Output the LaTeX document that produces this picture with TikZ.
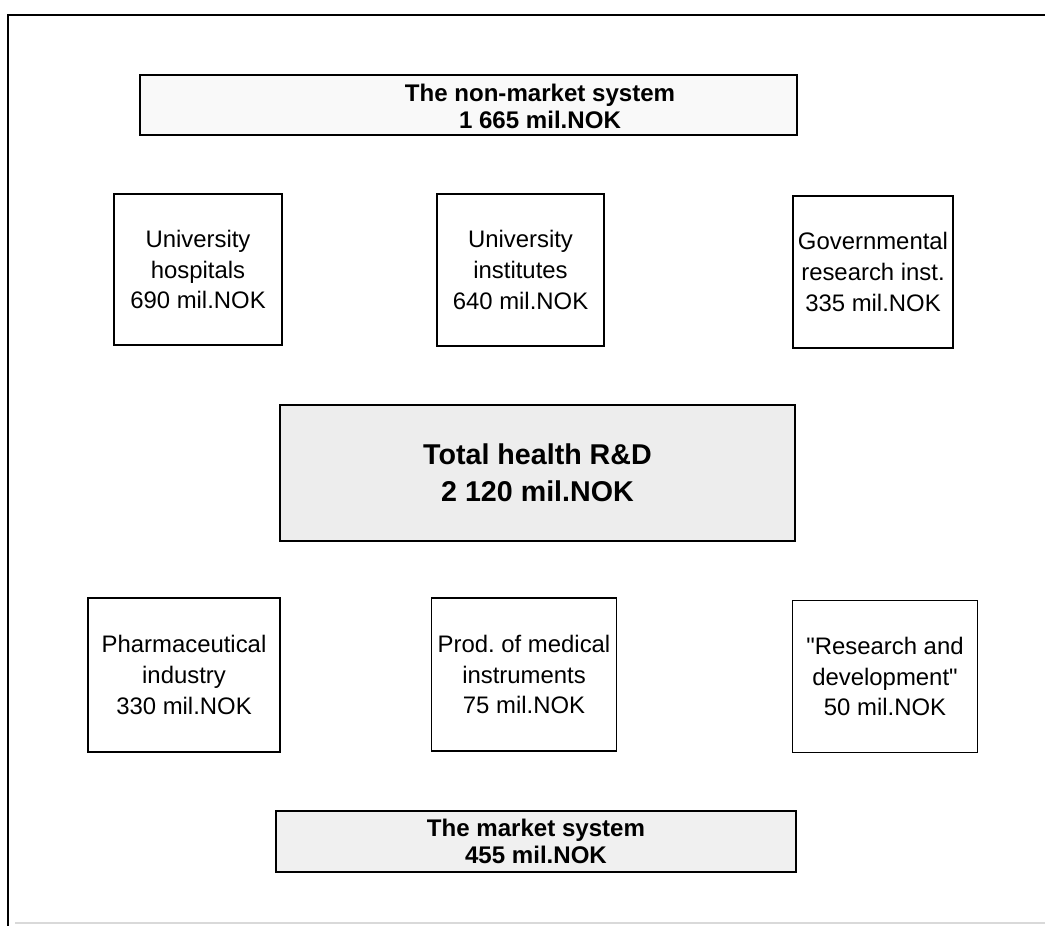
\documentclass[tikz,border=0pt]{standalone}
\usepackage{fontspec}
\setmainfont{Liberation Sans}
\usepackage{tikz}
\usetikzlibrary{positioning}
\frenchspacing

\tikzset{
  sysbox/.style={draw, line width=1pt, fill=gray!12, inner sep=0pt, align=center,
    font=\bfseries\fontsize{13.7}{15.3}\selectfont},
  systext/.style={inner sep=0pt, align=center,
    font=\bfseries\fontsize{13.7}{15.3}\selectfont},
  unitbox/.style={draw, line width=1pt, fill=white, inner sep=0pt, align=center,
    font=\fontsize{13.6}{17.6}\selectfont},
  totalbox/.style={draw, line width=1pt, fill=gray!14, inner sep=0pt, align=center,
    font=\bfseries\fontsize{16.3}{21}\selectfont}
}

\begin{document}
\begin{tikzpicture}[x=0.02cm, y=-0.02cm]
\useasboundingbox (0,0) rectangle (1045,926);

% Frame
\draw[line width=1pt] (1045,15) -- (8,15) -- (8,926);
\draw[gray!30, line width=0.8pt] (15,923) -- (1045,923);

% Non-market system
\node[sysbox, fill=gray!5, minimum width=13.14cm, minimum height=1.2cm] (nonmarket) at (468.5,105) {};
\node[systext] (nonmarkettext) at (540,106) {The non-market system\\1 665 mil.NOK};

% Non-market units
\node[unitbox, minimum width=3.36cm, minimum height=3.02cm] (hospitals) at (198,269.5)
  {University\\hospitals\\690 mil.NOK};
\node[unitbox, minimum width=3.34cm, minimum height=3.04cm] (institutes) at (520.5,270)
  {University\\institutes\\640 mil.NOK};
\node[unitbox, minimum width=3.2cm, minimum height=3.04cm] (government) at (873,272)
  {Governmental\\research inst.\\335 mil.NOK};

% Total
\node[totalbox, minimum width=10.3cm, minimum height=2.72cm] (total) at (537.5,473)
  {Total health R\&D\\2 120 mil.NOK};

% Market units
\node[unitbox, minimum width=3.84cm, minimum height=3.08cm] (pharma) at (184,675)
  {Pharmaceutical\\industry\\330 mil.NOK};
\node[unitbox, minimum width=3.7cm, minimum height=3.06cm] (instruments) at (524,674.5)
  {Prod. of medical\\instruments\\75 mil.NOK};
\node[unitbox, minimum width=3.7cm, minimum height=3.04cm] (research) at (885,676.5)
  {\textquotedbl Research and\\development\textquotedbl\\50 mil.NOK};

% Market system
\node[sysbox, minimum width=10.4cm, minimum height=1.22cm] (market) at (536,841.5)
  {The market system\\455 mil.NOK};
\end{tikzpicture}
\end{document}
